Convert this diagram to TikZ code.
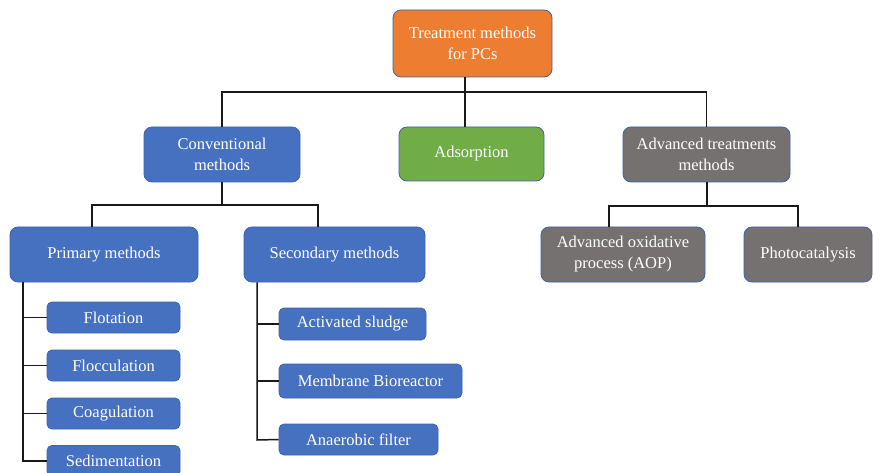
\documentclass[tikz,border=0pt]{standalone}
\usepackage{fontspec}
\setmainfont{Liberation Serif}
\begin{document}
\begin{tikzpicture}[x=1pt,y=-1pt,
  box/.style={draw=boxedge, line width=0.8pt, rounded corners=8pt, text=white,
    font=\fontsize{16.5}{21}\selectfont, align=center, inner sep=0pt},
  bluebox/.style={box, fill=boxblue},
  greybox/.style={box, fill=boxgrey},
  leaf/.style={bluebox, rounded corners=5pt},
  link/.style={draw=black!90, line width=1.5pt}]
\definecolor{boxblue}{HTML}{4670C0}
\definecolor{boxgrey}{HTML}{767171}
\definecolor{boxorange}{HTML}{ED7D31}
\definecolor{boxgreen}{HTML}{70AD47}
\definecolor{boxedge}{HTML}{3F62A8}
\useasboundingbox[fill=white] (0,0) rectangle (873,473);

% branching points of the tree
\coordinate (hub) at (465,92);
\coordinate (convhub) at (222,205);
\coordinate (advhub) at (707,206);
\coordinate (primrail) at (23,461);
\coordinate (secrail) at (257,440);

% level 0 and 1
\node[box, fill=boxorange, minimum width=159, minimum height=67] (top) at (472.5,43.5) {Treatment methods\\for PCs};
\node[bluebox, minimum width=156, minimum height=55] (conv) at (222,154.5) {Conventional\\methods};
\node[box, fill=boxgreen, minimum width=145, minimum height=54] (ads) at (471.5,154) {Adsorption};
\node[greybox, minimum width=167, minimum height=55] (adv) at (706.5,154.5) {Advanced treatments\\methods};

% level 2
\node[bluebox, minimum width=188, minimum height=55] (prim) at (104,254.5) {Primary methods};
\node[bluebox, minimum width=181, minimum height=55] (sec) at (334.5,254.5) {Secondary methods};
\node[greybox, minimum width=164, minimum height=55] (aop) at (623,254.5) {Advanced oxidative\\process (AOP)};
\node[greybox, minimum width=128, minimum height=55] (photo) at (808,254.5) {Photocatalysis};

% primary methods
\node[leaf, minimum width=133, minimum height=31] (flot) at (113.5,317.5) {Flotation};
\node[leaf, minimum width=133, minimum height=31] (flocc) at (113.5,365.5) {Flocculation};
\node[leaf, minimum width=133, minimum height=31] (coag) at (113.5,413.5) {Coagulation};
\node[leaf, minimum width=133, minimum height=31] (sed) at (113.5,461) {Sedimentation};

% secondary methods
\node[leaf, minimum width=147, minimum height=32] (act) at (352.5,324) {Activated sludge};
\node[leaf, minimum width=183, minimum height=34] (mem) at (370.5,381) {Membrane Bioreactor};
\node[leaf, minimum width=159, minimum height=31] (ana) at (358.5,439.5) {Anaerobic filter};

% tree connectors
\path[link] (top.south -| hub) -- (hub);
\path[link] (hub) -- (hub |- ads.north);
\path[link] (conv.north) |- (hub) -| (adv.north);

\path[link] (conv.south) -- (convhub);
\path[link] (prim.north -| 92,0) |- (convhub) -| (sec.north -| 318,0);

\path[link] (adv.south -| advhub) -- (advhub);
\path[link] (aop.north -| 609,0) |- (advhub) -| (photo.north -| 798,0);

\path[link] (prim.south -| primrail) -- (primrail) -- (sed.west);
\path[link] (flot.west) -- (flot.west -| primrail);
\path[link] (flocc.west) -- (flocc.west -| primrail);
\path[link] (coag.west) -- (coag.west -| primrail);

\path[link] (sec.south -| secrail) -- (secrail) -- (ana.west);
\path[link] (act.west) -- (act.west -| secrail);
\path[link] (mem.west) -- (mem.west -| secrail);
\end{tikzpicture}
\end{document}
